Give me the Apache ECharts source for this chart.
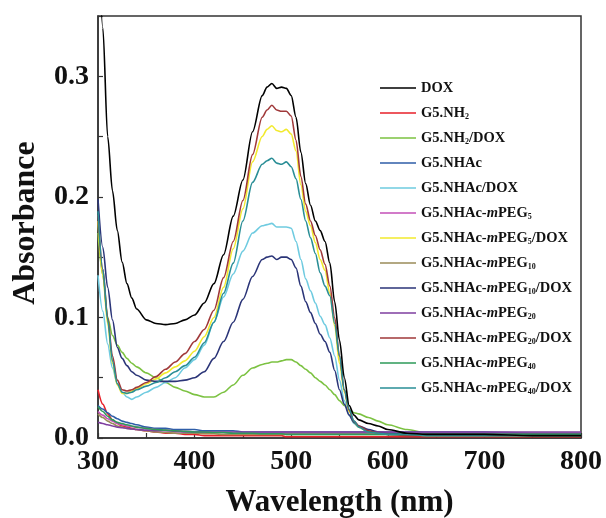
<!DOCTYPE html>
<html>
<head>
<meta charset="utf-8">
<script src="https://cdn.jsdelivr.net/npm/echarts@6/dist/echarts.min.js"></script>
<style>
html,body{margin:0;padding:0;background:#fff;}
#c{width:606px;height:518px;}
</style>
</head>
<body>
<div id="c"></div>
<script>
// Wavelength grid (nm)
var wavelengths = [300,305,310,315,320,325,330,335,340,350,360,370,380,390,400,410,420,430,440,450,460,470,475,480,485,490,495,500,505,510,515,520,525,530,535,540,545,550,555,560,565,570,580,590,600,620,640,660,700,750,800];

// Series names (legend order)
var seriesNames = ['DOX','G5.NH2','G5.NH2/DOX','G5.NHAc','G5.NHAc/DOX','G5.NHAc-mPEG5','G5.NHAc-mPEG5/DOX','G5.NHAc-mPEG10','G5.NHAc-mPEG10/DOX','G5.NHAc-mPEG20','G5.NHAc-mPEG20/DOX','G5.NHAc-mPEG40','G5.NHAc-mPEG40/DOX'];

var dox = [0.43,0.34,0.25,0.205,0.172,0.146,0.128,0.116,0.107,0.098,0.095,0.094,0.095,0.098,0.102,0.112,0.128,0.152,0.184,0.214,0.254,0.284,0.291,0.294,0.290,0.291,0.290,0.284,0.266,0.237,0.211,0.193,0.180,0.172,0.163,0.145,0.113,0.081,0.050,0.027,0.019,0.015,0.012,0.010,0.007,0.004,0.003,0.003,0.003,0.002,0.002];
var g5nh2 = [0.040,0.028,0.020,0.015,0.012,0.010,0.009,0.008,0.007,0.006,0.005,0.004,0.004,0.003,0.003,0.002,0.002,0.002,0.002,0.002,0.002,0.002,0.002,0.002,0.002,0.002,0.001,0.001,0.001,0.001,0.001,0.001,0.001,0.001,0.001,0.001,0.001,0.001,0.001,0.001,0.001,0.001,0.001,0.001,0.001,0.001,0.001,0.001,0.001,0.001,0.001];
var g5nh2Dox = [0.170,0.135,0.100,0.085,0.077,0.071,0.066,0.062,0.059,0.054,0.050,0.046,0.042,0.039,0.036,0.034,0.034,0.038,0.044,0.052,0.058,0.061,0.062,0.063,0.063,0.064,0.065,0.065,0.063,0.060,0.057,0.054,0.050,0.047,0.044,0.040,0.036,0.031,0.027,0.023,0.021,0.020,0.017,0.014,0.011,0.007,0.004,0.003,0.003,0.002,0.002];
var g5nhac = [0.027,0.024,0.021,0.018,0.016,0.014,0.013,0.012,0.011,0.009,0.008,0.008,0.007,0.007,0.007,0.006,0.006,0.006,0.006,0.005,0.005,0.005,0.005,0.005,0.005,0.005,0.005,0.005,0.005,0.005,0.005,0.005,0.005,0.005,0.005,0.005,0.005,0.005,0.005,0.005,0.005,0.005,0.005,0.005,0.005,0.005,0.005,0.005,0.005,0.004,0.004];
var g5nhacDox = [0.135,0.105,0.078,0.058,0.045,0.038,0.034,0.032,0.034,0.038,0.042,0.046,0.050,0.058,0.065,0.077,0.096,0.117,0.136,0.155,0.170,0.176,0.177,0.178,0.175,0.175,0.175,0.174,0.163,0.148,0.132,0.122,0.112,0.101,0.094,0.083,0.068,0.048,0.031,0.019,0.012,0.009,0.005,0.004,0.003,0.003,0.002,0.002,0.002,0.002,0.002];
var peg5 = [0.022,0.019,0.016,0.014,0.012,0.011,0.010,0.0095,0.009,0.008,0.007,0.0065,0.006,0.0055,0.005,0.005,0.0045,0.0045,0.004,0.004,0.004,0.004,0.004,0.004,0.004,0.004,0.004,0.004,0.004,0.004,0.004,0.004,0.004,0.004,0.004,0.004,0.004,0.004,0.004,0.004,0.004,0.004,0.004,0.004,0.004,0.004,0.004,0.004,0.004,0.004,0.004];
var peg5Dox = [0.180,0.135,0.095,0.062,0.044,0.037,0.037,0.039,0.041,0.045,0.049,0.054,0.059,0.064,0.072,0.084,0.100,0.125,0.157,0.190,0.229,0.250,0.256,0.259,0.255,0.254,0.256,0.252,0.238,0.210,0.188,0.176,0.162,0.148,0.139,0.120,0.093,0.062,0.038,0.022,0.013,0.009,0.005,0.004,0.003,0.003,0.002,0.002,0.002,0.002,0.002];
var peg10 = [0.020,0.017,0.014,0.012,0.010,0.009,0.008,0.0075,0.007,0.006,0.005,0.0045,0.004,0.004,0.004,0.0035,0.0035,0.003,0.003,0.003,0.003,0.003,0.003,0.003,0.003,0.003,0.003,0.003,0.003,0.003,0.003,0.003,0.003,0.003,0.003,0.003,0.003,0.003,0.003,0.003,0.003,0.003,0.003,0.003,0.003,0.003,0.003,0.003,0.003,0.003,0.003];
var peg10Dox = [0.198,0.158,0.125,0.098,0.075,0.066,0.060,0.055,0.052,0.048,0.047,0.047,0.047,0.048,0.050,0.055,0.066,0.080,0.096,0.115,0.134,0.148,0.150,0.151,0.148,0.150,0.150,0.148,0.141,0.126,0.113,0.104,0.095,0.086,0.080,0.071,0.056,0.040,0.028,0.019,0.013,0.010,0.007,0.005,0.004,0.003,0.003,0.003,0.003,0.003,0.003];
var peg20 = [0.013,0.012,0.011,0.010,0.009,0.0085,0.008,0.0075,0.007,0.0065,0.006,0.006,0.0055,0.005,0.005,0.005,0.005,0.005,0.005,0.005,0.005,0.005,0.005,0.005,0.005,0.005,0.005,0.005,0.005,0.005,0.005,0.005,0.005,0.005,0.005,0.005,0.005,0.005,0.005,0.005,0.005,0.005,0.005,0.005,0.005,0.005,0.005,0.005,0.005,0.005,0.005];
var peg20Dox = [0.185,0.140,0.100,0.068,0.048,0.040,0.039,0.040,0.042,0.046,0.051,0.057,0.063,0.070,0.080,0.090,0.106,0.133,0.163,0.197,0.235,0.266,0.272,0.276,0.272,0.271,0.271,0.267,0.247,0.217,0.194,0.180,0.168,0.156,0.144,0.126,0.100,0.068,0.040,0.023,0.014,0.010,0.006,0.004,0.003,0.002,0.002,0.002,0.002,0.002,0.002];
var peg40 = [0.026,0.022,0.018,0.015,0.013,0.012,0.011,0.010,0.009,0.008,0.007,0.0065,0.006,0.0055,0.005,0.005,0.0045,0.0045,0.004,0.004,0.004,0.0035,0.0035,0.0035,0.0035,0.0035,0.003,0.003,0.003,0.003,0.003,0.003,0.003,0.003,0.003,0.003,0.003,0.003,0.003,0.003,0.003,0.003,0.003,0.003,0.003,0.003,0.003,0.003,0.003,0.003,0.003];
var peg40Dox = [0.188,0.140,0.098,0.064,0.045,0.038,0.037,0.038,0.040,0.043,0.046,0.050,0.055,0.060,0.067,0.079,0.096,0.120,0.145,0.180,0.212,0.227,0.230,0.232,0.228,0.227,0.229,0.225,0.215,0.198,0.180,0.166,0.153,0.137,0.126,0.118,0.095,0.068,0.040,0.024,0.014,0.009,0.005,0.004,0.003,0.003,0.002,0.002,0.002,0.002,0.002];

var seriesValues = [dox,g5nh2,g5nh2Dox,g5nhac,g5nhacDox,peg5,peg5Dox,peg10,peg10Dox,peg20,peg20Dox,peg40,peg40Dox];
var seriesColors = ['#000000','#e8202a','#7cc242','#2f5ea8','#6fcbe0','#c450b8','#f2ea2e','#9a8c5a','#2b3578','#7f3fa0','#a0393a','#2e9a5a','#2a8e96'];

var serif = '"Liberation Serif", "DejaVu Serif", serif';

function legendLabel(name) {
  var s = name;
  s = s.replace('-mPEG', '-{i|m}PEG');
  s = s.replace(/PEG(\d+)/, 'PEG{sub|$1}');
  s = s.replace(/NH2/, 'NH{sub|2}');
  return s;
}

var chart = echarts.init(document.getElementById('c'), null, {renderer: 'canvas'});

var series = seriesNames.map(function (n, k) {
  return {
    name: n,
    type: 'line',
    showSymbol: false,
    symbol: 'none',
    smooth: 0.3,
    smoothMonotone: 'x',
    clip: true,
    z: n === 'DOX' ? 5 : 2,
    lineStyle: {width: 1.6, color: seriesColors[k]},
    itemStyle: {color: seriesColors[k]},
    data: wavelengths.map(function (w, i) { return [w, seriesValues[k][i]]; })
  };
});

chart.setOption({
  animation: false,
  backgroundColor: '#ffffff',
  grid: {left: 98, right: 25, top: 16, bottom: 80, containLabel: false, outerBoundsMode: 'none', show: true, borderColor: '#333', borderWidth: 1.5, backgroundColor: 'transparent'},
  legend: {
    orient: 'vertical',
    left: 375,
    top: 73,
    padding: 5,
    itemWidth: 36,
    itemHeight: 20,
    itemGap: 5,
    icon: 'path://M0,0 L0.01,0 M0,9.25 L36,9.25 L36,10.75 L0,10.75 Z M0,20 L0.01,20',
    data: seriesNames,
    formatter: legendLabel,
    textStyle: {
      fontFamily: serif, fontWeight: 'bold', fontSize: 14.5, color: '#111', lineHeight: 16,
      rich: {
        sub: {fontFamily: serif, fontWeight: 'bold', fontSize: 8, color: '#111', lineHeight: 16, verticalAlign: 'bottom'},
        i: {fontFamily: serif, fontWeight: 'bold', fontStyle: 'italic', fontSize: 14.5, color: '#111', lineHeight: 16}
      }
    }
  },
  xAxis: {
    type: 'value', min: 300, max: 800, interval: 50,
    name: 'Wavelength (nm)', nameLocation: 'middle', nameGap: 49,
    nameTextStyle: {fontFamily: serif, fontWeight: 'bold', fontSize: 31, color: '#111'},
    axisLine: {show: true, lineStyle: {color: '#333', width: 1.5}},
    axisTick: {show: true, inside: true, length: 5, lineStyle: {color: '#333', width: 1.2}},
    splitLine: {show: false},
    axisLabel: {
      margin: 10, fontFamily: serif, fontWeight: 'bold', fontSize: 28, color: '#111',
      formatter: function (v) { return Math.round(v) % 100 === 0 ? String(Math.round(v)) : ''; }
    }
  },
  yAxis: {
    type: 'value', min: 0, max: 0.35, interval: 0.05,
    name: 'Absorbance', nameLocation: 'middle', nameGap: 56,
    nameTextStyle: {fontFamily: serif, fontWeight: 'bold', fontSize: 32, color: '#111', padding: [0, 0, 0, 8]},
    axisLine: {show: true, lineStyle: {color: '#333', width: 1.5}},
    axisTick: {show: true, inside: true, length: 5, lineStyle: {color: '#333', width: 1.2}},
    splitLine: {show: false},
    axisLabel: {
      margin: 9, fontFamily: serif, fontWeight: 'bold', fontSize: 28, color: '#111',
      formatter: function (v) { var r = Math.round(v * 100); return r % 10 === 0 ? (r / 100).toFixed(1) : ''; }
    }
  },
  series: series
});
</script>
</body>
</html>
